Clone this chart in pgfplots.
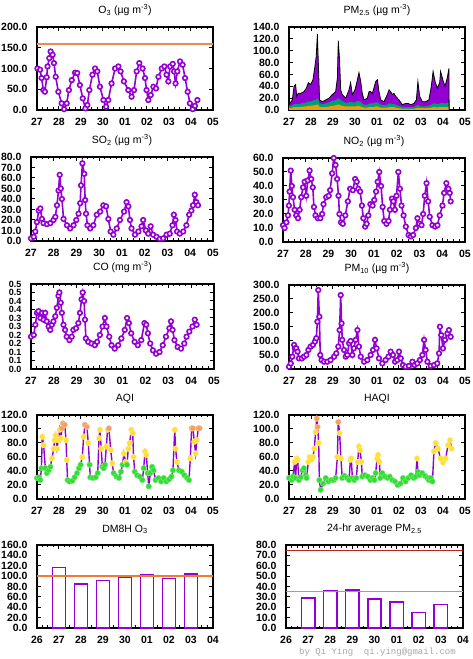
\documentclass[border=0pt]{standalone}
\usepackage{fontspec}
\setmainfont{Liberation Sans}
\setmonofont{Liberation Mono}
\usepackage{pgfplots}
\usepackage{pgfplotstable}
\pgfplotsset{compat=1.18}
\definecolor{pv}{HTML}{9400D3}
\definecolor{lorange}{HTML}{F08A55}
\definecolor{dorange}{HTML}{F07A30}
\definecolor{sorange}{HTML}{FF7F3F}
\definecolor{pmgreen}{HTML}{009E73}
\definecolor{pmorange}{HTML}{E6A000}
\definecolor{agreen}{HTML}{33DD33}
\definecolor{ayellow}{HTML}{FFE033}
\definecolor{aorange}{HTML}{F4A060}
\definecolor{dred}{HTML}{C02020}

\pgfplotstableread{
x y
0.02 100
0.14 97
0.21 77
0.29 48
0.36 44
0.44 79
0.48 105
0.56 125
0.62 141
0.71 133
0.77 113
0.85 80
0.97 44
1.12 16
1.23 2
1.35 16
1.45 48
1.58 72
1.73 90
1.83 89
1.95 60
2.08 28
2.20 4
2.29 12
2.38 48
2.52 85
2.64 100
2.74 93
2.86 56
3.02 24
3.14 8
3.24 24
3.39 64
3.55 100
3.70 105
3.80 93
3.95 69
4.15 48
4.30 32
4.41 48
4.53 93
4.65 113
4.80 100
4.91 77
4.98 48
5.06 24
5.17 36
5.29 56
5.41 52
5.52 80
5.67 100
5.79 105
5.89 85
5.97 69
6.05 105
6.17 111
6.23 93
6.30 64
6.38 93
6.50 117
6.62 109
6.73 77
6.85 44
6.95 16
7.08 2
7.18 10
7.29 24
}\othree

\pgfplotstableread{
x t og o
0.00 9 6 3
0.15 17 8 4
0.23 40 10 5
0.30 43 10 5
0.35 23 10 5
0.42 28 10 5
0.53 28 11 5
0.68 31 12 6
0.79 37 13 6
0.88 46 14 7
0.98 43 14 7
1.09 51 16 8
1.18 74 17 8
1.24 91 18 9
1.29 128 19 9
1.33 83 19 9
1.39 17 11 5
1.52 14 10 5
1.67 17 11 5
1.82 20 13 6
1.97 26 15 7
2.12 31 17 8
2.20 54 19 9
2.24 117 19 9
2.30 83 19 9
2.35 34 17 8
2.42 26 15 7
2.58 20 12 6
2.73 34 13 6
2.80 46 14 6
2.88 26 13 6
3.00 34 13 6
3.11 51 15 7
3.18 63 15 7
3.26 48 14 6
3.33 28 11 5
3.41 17 9 4
3.56 20 9 4
3.64 31 11 5
3.71 31 11 5
3.79 28 11 5
3.86 37 12 5
3.94 48 13 6
4.02 51 13 6
4.09 31 11 5
4.17 17 9 4
4.32 14 8 4
4.47 26 9 4
4.55 34 11 5
4.62 31 11 5
4.70 26 10 5
4.77 28 10 5
4.85 23 9 4
5.00 17 7 3
5.15 9 5 2
5.30 11 5 2
5.42 11 5 2
5.53 9 5 2
5.68 11 5 2
5.79 17 7 3
5.86 48 9 4
5.94 23 7 3
6.06 14 6 3
6.21 14 6 3
6.36 17 7 3
6.47 40 9 4
6.55 65 11 5
6.64 48 11 5
6.74 37 10 4
6.85 46 11 5
6.89 65 12 5
7.00 50 12 5
7.09 40 11 5
7.20 55 12 5
7.27 70 13 6
7.28 0 0 0
}\pmtwofive

\pgfplotstableread{
x y
0.00 2.5
0.12 4
0.19 9
0.26 18
0.34 29
0.41 31
0.48 21
0.55 17
0.70 16
0.85 17
0.99 20
1.07 23
1.14 34
1.21 48
1.26 63
1.31 50
1.36 40
1.43 21
1.58 15
1.72 12
1.87 15
1.99 20
2.09 26
2.16 36
2.20 53
2.26 74
2.34 64
2.38 39
2.42 26
2.48 15
2.60 12
2.74 15
2.89 25
3.04 28
3.18 34
3.30 33
3.40 21
3.50 9
3.62 6
3.77 12
3.91 20
4.09 28
4.20 37
4.28 33
4.35 20
4.42 12
4.57 6
4.72 9
4.86 14
4.93 20
5.05 10
5.15 7
5.26 14
5.37 6
5.52 4
5.66 2
5.81 2.5
5.96 6
6.10 7
6.22 15
6.28 25
6.35 20
6.42 9
6.54 7
6.69 9
6.83 15
6.95 25
7.05 29
7.12 34
7.20 44
7.27 37
7.34 34
}\sotwo

\pgfplotstableread{
x y
0.00 12
0.07 10
0.15 14
0.22 19
0.26 26
0.29 36
0.34 51
0.39 40
0.44 32
0.51 23
0.58 19
0.66 17
0.73 23
0.80 32
0.88 39
0.95 43
1.02 33
1.09 44
1.17 51
1.24 45
1.31 39
1.36 25
1.43 19
1.53 17
1.64 17
1.72 20
1.78 27
1.90 32
2.01 33
2.07 37
2.16 49
2.23 60
2.31 55
2.38 45
2.44 33
2.48 20
2.55 14
2.63 13
2.74 19
2.85 29
2.95 38
3.07 37
3.17 45
3.24 43
3.31 38
3.39 36
3.47 26
3.53 17
3.61 11
3.68 13
3.75 19
3.84 27
3.94 26
4.01 30
4.09 36
4.16 43
4.23 50
4.31 40
4.38 25
4.45 15
4.55 13
4.64 15
4.70 23
4.79 31
4.85 29
4.92 23
4.99 33
5.07 50
5.14 38
5.21 26
5.30 19
5.40 11
5.52 5
5.62 4
5.72 5
5.84 10
5.91 17
5.99 13
6.09 12
6.16 20
6.23 33
6.31 42
6.38 29
6.45 18
6.57 12
6.69 11
6.79 12
6.89 19
7.01 26
7.08 35
7.18 42
7.27 38
7.33 35
7.37 29
}\notwo

\pgfplotstableread{
x y
0.00 0.19
0.12 0.20
0.19 0.26
0.26 0.33
0.33 0.34
0.41 0.30
0.48 0.33
0.55 0.29
0.62 0.33
0.69 0.28
0.77 0.25
0.84 0.23
0.91 0.26
0.98 0.28
1.06 0.31
1.13 0.36
1.20 0.43
1.24 0.45
1.30 0.39
1.35 0.33
1.42 0.26
1.49 0.23
1.56 0.19
1.68 0.17
1.78 0.19
1.85 0.23
1.97 0.24
2.07 0.27
2.14 0.33
2.21 0.41
2.26 0.45
2.32 0.40
2.36 0.29
2.40 0.18
2.50 0.16
2.65 0.15
2.79 0.14
2.89 0.16
3.01 0.20
3.13 0.25
3.23 0.30
3.30 0.25
3.42 0.19
3.52 0.14
3.66 0.12
3.81 0.14
3.95 0.18
4.10 0.23
4.20 0.30
4.28 0.27
4.38 0.21
4.53 0.16
4.67 0.14
4.82 0.17
4.96 0.27
5.04 0.26
5.11 0.21
5.21 0.15
5.33 0.11
5.47 0.09
5.62 0.10
5.76 0.14
5.90 0.19
6.05 0.24
6.12 0.28
6.19 0.23
6.27 0.17
6.41 0.13
6.56 0.12
6.70 0.15
6.80 0.19
6.92 0.22
7.06 0.25
7.16 0.29
7.24 0.26
}\co

\pgfplotstableread{
x y
0.00 8
0.08 20
0.15 44
0.23 86
0.27 74
0.33 74
0.39 62
0.45 38
0.58 38
0.68 44
0.79 50
0.88 68
0.98 80
1.09 86
1.18 98
1.24 110
1.29 169
1.33 282
1.38 187
1.42 50
1.48 32
1.59 26
1.74 26
1.89 32
2.05 44
2.15 56
2.24 80
2.30 139
2.35 264
2.39 163
2.42 104
2.50 68
2.58 44
2.65 50
2.73 92
2.80 100
2.88 50
2.95 74
3.03 104
3.11 139
3.18 80
3.26 44
3.41 26
3.56 32
3.71 50
3.82 68
3.91 104
3.98 74
4.09 38
4.24 20
4.39 32
4.52 44
4.62 62
4.73 50
4.82 26
4.92 32
5.00 62
5.08 38
5.18 14
5.30 8
5.45 11
5.61 26
5.71 14
5.83 20
5.95 32
6.06 50
6.14 104
6.21 68
6.29 26
6.44 11
6.59 14
6.74 20
6.82 56
6.86 151
6.92 121
7.00 74
7.09 104
7.20 127
7.27 139
7.35 115
}\pmten

\pgfplotstableread{
x y c
0.00 30 g
0.09 31 g
0.15 27 g
0.20 44 g
0.24 89 y
0.30 77 y
0.38 44 g
0.45 37 g
0.53 41 g
0.61 46 g
0.68 58 y
0.76 72 y
0.80 84 y
0.85 91 y
0.91 72 y
0.97 84 y
1.03 99 y
1.08 87 y
1.14 101 o
1.18 108 o
1.26 106 o
1.32 84 y
1.35 56 y
1.39 27 g
1.48 25 g
1.61 26 g
1.71 31 g
1.82 37 g
1.91 44 g
1.98 49 g
2.06 60 y
2.12 89 y
2.18 106 o
2.27 103 o
2.33 80 y
2.39 49 g
2.42 31 g
2.55 30 g
2.67 31 g
2.76 37 g
2.82 87 y
2.86 99 y
2.92 72 y
2.97 46 g
3.03 44 g
3.09 49 g
3.15 75 y
3.21 99 y
3.27 101 o
3.35 70 y
3.42 51 y
3.48 37 g
3.61 32 g
3.73 30 g
3.82 39 g
3.89 49 g
3.95 65 y
4.03 53 y
4.09 49 g
4.15 72 y
4.21 80 y
4.29 99 y
4.35 94 y
4.39 60 y
4.44 39 g
4.55 34 g
4.67 32 g
4.79 27 g
4.85 44 g
4.91 68 y
4.97 63 y
5.03 37 g
5.08 18 g
5.15 37 g
5.23 46 g
5.30 41 g
5.39 27 g
5.52 30 g
5.64 25 g
5.76 30 g
5.88 25 g
6.00 28 g
6.11 32 g
6.18 41 g
6.26 99 y
6.30 72 y
6.36 53 y
6.45 41 g
6.58 39 g
6.70 34 g
6.82 30 g
6.91 27 g
6.97 58 y
7.03 101 o
7.09 101 o
7.15 82 y
7.21 65 y
7.27 84 y
7.33 101 o
7.39 101 o
}\aqi

\pgfplotstableread{
x y c
0.00 30 g
0.12 27 g
0.18 32 g
0.26 53 y
0.30 30 g
0.35 58 y
0.39 56 y
0.45 27 g
0.53 31 g
0.61 41 g
0.68 44 g
0.76 34 g
0.80 30 g
0.88 53 y
0.94 60 y
1.02 56 y
1.09 60 y
1.15 72 y
1.21 96 y
1.26 115 o
1.30 103 o
1.35 80 y
1.38 27 g
1.44 13 g
1.55 22 g
1.67 30 g
1.79 25 g
1.91 27 g
2.03 27 g
2.12 30 g
2.20 60 y
2.24 110 o
2.30 94 y
2.36 58 y
2.42 30 g
2.52 33 g
2.64 30 g
2.73 27 g
2.79 56 y
2.83 58 y
2.88 30 g
2.97 27 g
3.06 30 g
3.12 53 y
3.18 75 y
3.23 70 y
3.29 53 y
3.33 32 g
3.45 34 g
3.58 32 g
3.70 27 g
3.79 30 g
3.88 27 g
3.94 37 g
4.00 58 y
4.05 63 y
4.11 53 y
4.15 30 g
4.24 37 g
4.36 32 g
4.48 30 g
4.58 32 g
4.70 27 g
4.82 25 g
4.94 20 g
5.06 22 g
5.18 30 g
5.30 25 g
5.42 30 g
5.55 34 g
5.67 30 g
5.76 32 g
5.82 58 y
5.86 39 g
5.94 34 g
6.06 37 g
6.18 33 g
6.29 30 g
6.36 27 g
6.44 30 g
6.52 25 g
6.59 68 y
6.67 80 y
6.77 72 y
6.89 58 y
7.00 52 y
7.12 58 y
7.23 77 y
7.32 84 y
7.39 72 y
}\haqi

\pgfplotstableread{
x y
1 117
2 85
3 92
4 97
5 102
6 95
7 104
}\dmeight

\pgfplotstableread{
x y
1 29
2 36
3 36.5
4 28
5 25
6 15
7 22.5
}\pmday

\pgfplotsset{
  gp/.style={
    scale only axis, anchor=south west,
    xmin=0, xmax=8, xtick={0,...,8}, minor x tick num=3,
    ymin=0,
    axis line style={line width=1.6pt},
    tick style={black, line width=1pt},
    major tick length=4pt, minor tick length=2.5pt,
    tick align=inside,
    tick label style={font=\fontsize{10.5}{12}\selectfont\bfseries},
    yticklabel style={xshift=-6pt,
      /pgf/number format/fixed, /pgf/number format/fixed zerofill,
      /pgf/number format/precision=1, /pgf/number format/assume math mode=true},
    xticklabel style={yshift=-5pt},
    title style={font=\fontsize{10.5}{12}\selectfont, at={(0.5,1)}, anchor=south, yshift=3pt, inner ysep=2pt},
    xticklabels={27,28,29,30,01,02,03,04,05},
  },
  ts/.style={pv, line width=1.6pt, mark=*, mark size=2.3pt,
    mark options={fill=white, draw=pv, line width=1.6pt}},
  aq/.style={only marks, scatter, scatter src=explicit symbolic,
    scatter/classes={
      g={mark=*, mark size=2.8pt, fill=agreen, draw=agreen!60!white},
      y={mark=*, mark size=2.8pt, fill=ayellow, draw=ayellow!60!white},
      o={mark=*, mark size=2.8pt, fill=aorange, draw=aorange!60!white}}},
  bars/.style={xticklabels={26,27,28,29,30,01,02,03,04}},
}

\begin{document}
\begin{tikzpicture}
\useasboundingbox (0,0) rectangle (473pt,659pt);

% O3
\begin{axis}[gp, at={(37pt,549pt)}, width=176pt, height=83pt,
  ymax=200, ytick={0,50,...,200},
  title={O\textsubscript{3} (µg m\textsuperscript{-3})}]
\addplot[lorange, line width=2pt] coordinates {(0,160) (8,160)};
\addplot[ts] table[x=x,y=y] {\othree};
\end{axis}

% PM2.5
\begin{axis}[gp, at={(289pt,549pt)}, width=176pt, height=83pt,
  ymax=140, ytick={0,20,...,140},
  title={PM\textsubscript{2.5} (µg m\textsuperscript{-3})}]
\addplot[fill=pv, draw=none] table[x=x,y=t] {\pmtwofive} \closedcycle;
\addplot[fill=pmgreen, draw=none] table[x=x,y=og] {\pmtwofive} \closedcycle;
\addplot[fill=pmorange, draw=none] table[x=x,y=o] {\pmtwofive} \closedcycle;
\addplot[black, line width=0.8pt] table[x=x,y=t] {\pmtwofive};
\end{axis}

% SO2
\begin{axis}[gp, at={(31pt,418pt)}, width=182pt, height=84pt,
  ymax=80, ytick={0,10,...,80},
  title={SO\textsubscript{2} (µg m\textsuperscript{-3})}]
\addplot[ts] table[x=x,y=y] {\sotwo};
\end{axis}

% NO2
\begin{axis}[gp, at={(283pt,417pt)}, width=182pt, height=84pt,
  ymax=60, ytick={0,10,...,60},
  title={NO\textsubscript{2} (µg m\textsuperscript{-3})}]
\addplot[ts] table[x=x,y=y] {\notwo};
\end{axis}

% CO
\begin{axis}[gp, at={(31pt,290pt)}, width=183pt, height=85pt,
  ymax=0.5, ytick={0,0.05,0.1,0.15,0.2,0.25,0.3,0.35,0.4,0.45,0.5},
  yticklabel style={font=\fontsize{9}{9}\selectfont\bfseries, inner ysep=0pt},
  title={CO (mg m\textsuperscript{-3})}]
\addplot[ts] table[x=x,y=y] {\co};
\end{axis}

% PM10
\begin{axis}[gp, at={(289pt,290pt)}, width=176pt, height=84pt,
  ymax=300, ytick={0,50,...,300},
  title={PM\textsubscript{10} (µg m\textsuperscript{-3})}]
\addplot[ts] table[x=x,y=y] {\pmten};
\end{axis}

% AQI
\begin{axis}[gp, at={(37pt,160pt)}, width=176pt, height=84pt,
  ymax=120, ytick={0,20,...,120},
  title={AQI}]
\addplot[aq] table[x=x,y=y,meta=c] {\aqi};
\addplot[pv, line width=1.4pt] table[x=x,y=y] {\aqi};
\end{axis}

% HAQI
\begin{axis}[gp, at={(289pt,160pt)}, width=176pt, height=84pt,
  ymax=120, ytick={0,20,...,120},
  title={HAQI}]
\addplot[aq] table[x=x,y=y,meta=c] {\haqi};
\addplot[pv, line width=1.4pt] table[x=x,y=y] {\haqi};
\end{axis}

% DM8H O3
\begin{axis}[gp, bars, at={(37pt,31pt)}, width=176pt, height=83pt,
  ymax=160, ytick={0,20,...,160},
  title={DM8H O\textsubscript{3}}]
\addplot[ybar, bar width=0.6, fill=white, draw=pv, line width=1.5pt] table[x=x,y=y] {\dmeight};
\addplot[dorange, line width=2.2pt] coordinates {(0,100) (8,100)};
\end{axis}

% 24-hr PM2.5
\begin{axis}[gp, bars, at={(286pt,31pt)}, width=177pt, height=83pt,
  ymax=80, ytick={0,10,...,80},
  title={24-hr average PM\textsubscript{2.5}}]
\addplot[ybar, bar width=0.6, fill=white, draw=pv, line width=1.5pt] table[x=x,y=y] {\pmday};
\addplot[dred, line width=1.2pt] coordinates {(0,75) (8,75)};
\addplot[sorange, line width=1.6pt] coordinates {(0,35) (8,35)};
\end{axis}

\node[anchor=south east, text=black!35, font=\fontsize{9}{10}\selectfont\ttfamily, inner sep=0pt] at (456pt,2pt) {by Qi Ying\ \ qi.ying@gmail.com};
\end{tikzpicture}
\end{document}
